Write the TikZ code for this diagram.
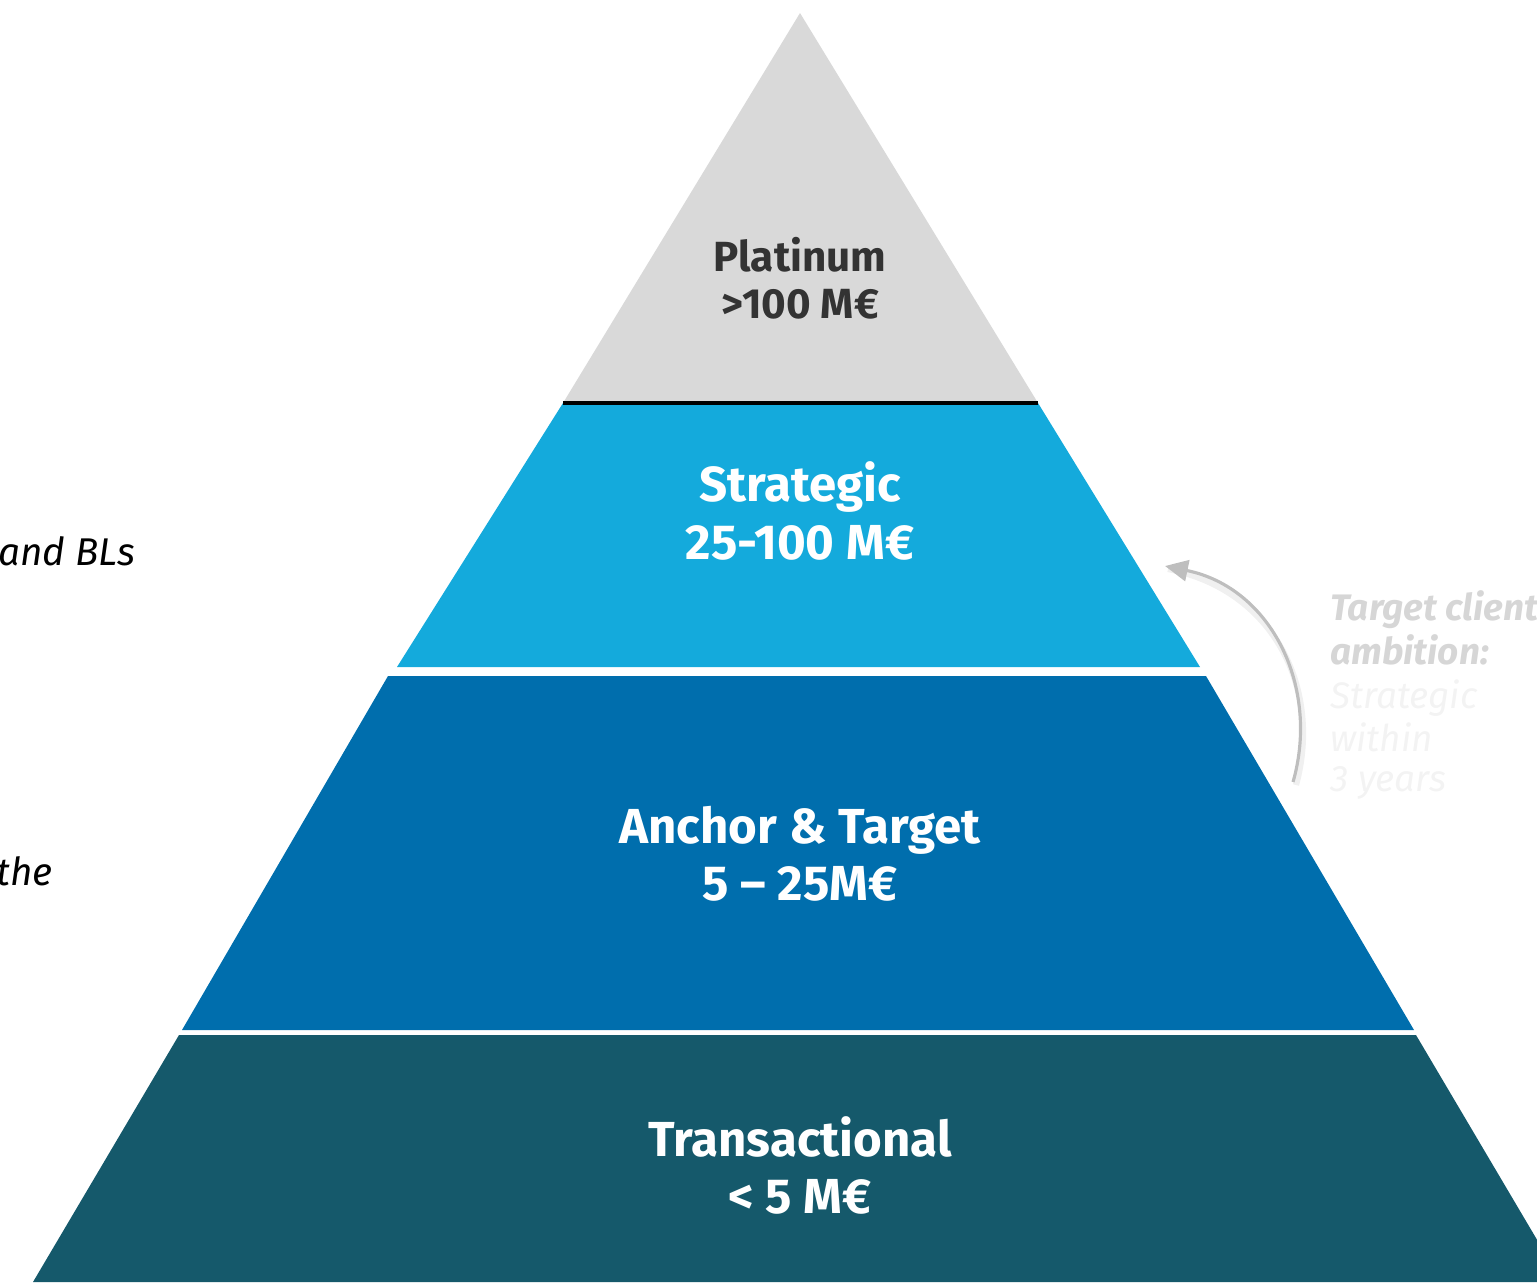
\documentclass[tikz,border=0pt]{standalone}
\usepackage{fontspec}
\setmainfont{Fira Sans}
\usetikzlibrary{arrows.meta}

\definecolor{platgrey}{RGB}{217,217,217}
\definecolor{stratblue}{RGB}{20,170,220}
\definecolor{anchorblue}{RGB}{0,110,173}
\definecolor{transteal}{RGB}{21,89,107}
\definecolor{platink}{RGB}{51,51,51}
\definecolor{ambgrey}{RGB}{214,214,214}
\definecolor{ambfaint}{RGB}{243,243,243}
\definecolor{climbgrey}{RGB}{190,190,190}

\tikzset{
  tierlabel/.style={font=\bfseries\fontsize{28}{32.5}\selectfont, align=center, text=white},
  toplabel/.style={font=\bfseries\fontsize{24}{26.5}\selectfont, align=center, text=platink},
  sidenote/.style={font=\itshape\fontsize{22}{30}\selectfont, anchor=base west, inner xsep=0},
  ambition/.style={font=\bfseries\itshape\fontsize{21}{25}\selectfont, text=ambgrey, anchor=base west, inner xsep=0},
  ambitionsub/.style={font=\itshape\fontsize{21}{25}\selectfont, text=ambfaint, anchor=base west, inner xsep=0},
  climb/.style={line width=1.8pt, draw=climbgrey, -{Triangle[length=13pt,width=12pt]}}
}

\begin{document}
\begin{tikzpicture}[x=0.02cm, y=-0.02cm]
    \clip (0,0) rectangle (1537,1282);

    % tiers, top to bottom
    \fill[platgrey]   (800,13) -- (1038,403) -- (563,403) -- cycle;
    \fill[stratblue]  (563,403) -- (1038,403) -- (1200,667) -- (397,667) -- cycle;
    \fill[anchorblue] (388,676) -- (1206,676) -- (1414,1030) -- (182,1030) -- cycle;
    \fill[transteal]  (179,1035) -- (1416,1035) -- (1562,1282) -- (33,1282) -- cycle;
    \draw[line width=2.3pt] (563,403) -- (1038,403);

    \node[toplabel]  (plat)   at (800,278)  {Platinum\\>100 M€};
    \node[tierlabel] (strat)  at (800,511)  {Strategic\\25-100 M€};
    \node[tierlabel] (anchor) at (800,854)  {Anchor \& Target\\5 – 25M€};
    \node[tierlabel] (trans)  at (800,1165) {Transactional\\< 5 M€};

    % notes running in from the left edge
    \node[sidenote] (blnote)  at (-2,565) {and BLs};
    \node[sidenote] (thenote) at (-4,885) {the};

    % ambition arrow and note
    \coordinate (climbfrom) at (1293,782);
    \coordinate (climbto)   at (1165,566);
    \draw[line width=3.5pt, black, opacity=.06] ([shift={(3,3)}]climbfrom) .. controls (1322,690) and (1275,590) .. ([shift={(3,3)}]climbto);
    \draw[climb] (climbfrom) .. controls (1320,688) and (1272,588) .. (climbto);

    \node[ambition]    (amb1) at (1330,620) {Target client};
    \node[ambition]    (amb2) at (1330,664) {ambition:};
    \node[ambitionsub] (amb3) at (1330,708) {Strategic};
    \node[ambitionsub] (amb4) at (1330,751) {within};
    \node[ambitionsub] (amb5) at (1330,791) {3 years};
\end{tikzpicture}
\end{document}
